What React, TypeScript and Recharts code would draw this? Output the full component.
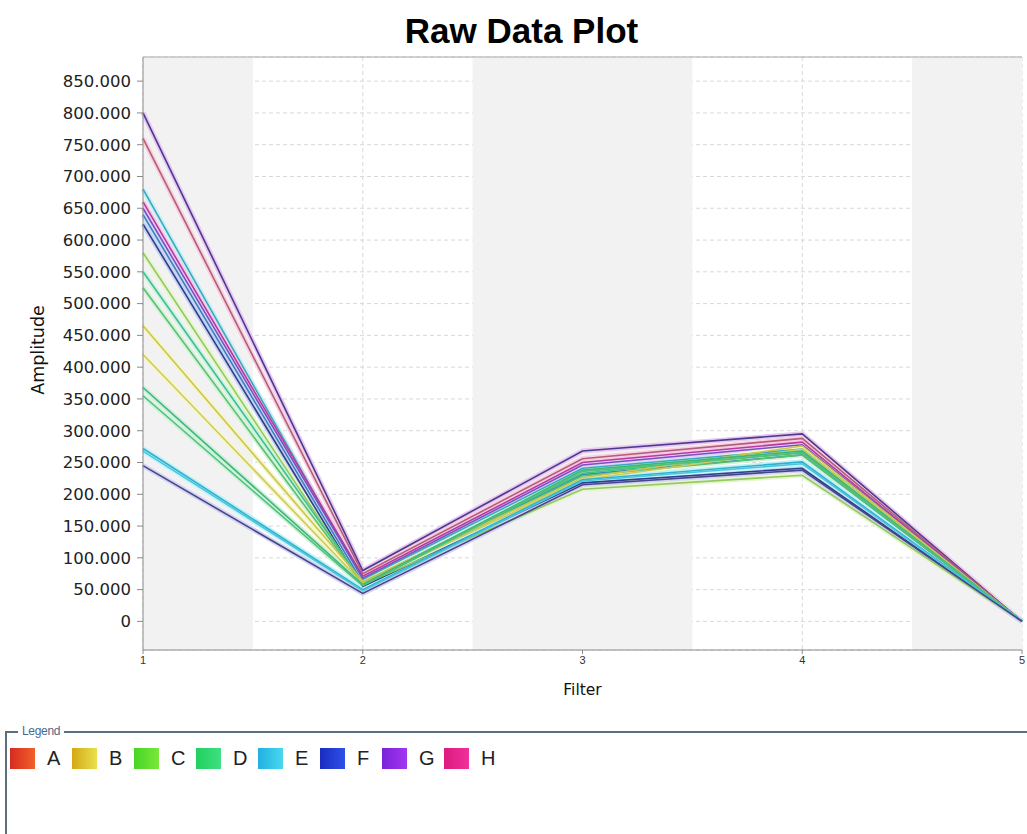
import React from "react";
import {
  CartesianGrid,
  LineChart,
  Line,
  ReferenceArea,
  ReferenceLine,
  XAxis,
  YAxis
} from "recharts";

const filters = [1, 2, 3, 4, 5];
const yTicks = [0, 50, 100, 150, 200, 250, 300, 350, 400, 450, 500, 550, 600, 650, 700, 750, 800, 850];

// amplitude per filter, one list per trace
const g1 = [800, 80, 268, 295, 0];
const h1 = [760, 75, 256, 288, 0];
const e1 = [680, 66, 241, 271, 0];
const h2 = [660, 71, 250, 282, 0];
const g2 = [650, 68, 246, 278, 0];
const f1 = [640, 61, 231, 262, 0];
const f2 = [625, 55, 218, 241, 0];
const c1 = [580, 58, 208, 230, 0];
const d1 = [550, 61, 233, 266, 0];
const d2 = [525, 59, 229, 262, 0];
const b1 = [465, 63, 226, 276, 0];
const b2 = [420, 60, 223, 271, 0];
const d3 = [368, 58, 238, 268, 0];
const d4 = [355, 56, 236, 265, 0];
const e2 = [272, 50, 223, 251, 0];
const e3 = [268, 48, 221, 248, 0];
const f3 = [245, 44, 215, 238, 0];

const traces = [
  { key: "g1", values: g1, color: "#4b3b8f", glow: "#e8c8f0" },
  { key: "h1", values: h1, color: "#b0607a", glow: "#f8d0e0" },
  { key: "e1", values: e1, color: "#38aac0", glow: "#c8eef4" },
  { key: "h2", values: h2, color: "#b83a9a", glow: "#f4c8e8" },
  { key: "g2", values: g2, color: "#7d4fc0", glow: "#e4d0f8" },
  { key: "f1", values: f1, color: "#3f7fc0", glow: "#c8dcf4" },
  { key: "f2", values: f2, color: "#2c3f8c", glow: "#c8d0f0" },
  { key: "c1", values: c1, color: "#94c860", glow: "#e4f6cc" },
  { key: "d1", values: d1, color: "#3ec08c", glow: "#ccf2e0" },
  { key: "d2", values: d2, color: "#58c070", glow: "#d4f2d8" },
  { key: "b1", values: b1, color: "#c8c84e", glow: "#f6f4c8" },
  { key: "b2", values: b2, color: "#cccc5c", glow: "#f6f6cc" },
  { key: "d3", values: d3, color: "#3cb874", glow: "#cceedc" },
  { key: "d4", values: d4, color: "#52c07c", glow: "#d0f2dc" },
  { key: "e2", values: e2, color: "#2eb2cc", glow: "#c0f0f8" },
  { key: "e3", values: e3, color: "#4cc4dc", glow: "#c8f4fa" },
  { key: "f3", values: f3, color: "#46468e", glow: "#d4d4f0" }
];

const legendNames = ["A", "B", "C", "D", "E", "F", "G", "H"];
const legendColors = [
  ["#d62a20", "#f2602a"],
  ["#d4a812", "#e8e050"],
  ["#46d424", "#7ae83a"],
  ["#22d060", "#3ee080"],
  ["#22b0e0", "#48d8f0"],
  ["#1a2cc0", "#2e50e8"],
  ["#7a22d8", "#a236f0"],
  ["#dc1a80", "#f0309c"]
];

const bands = [
  [1, 1.5],
  [2.5, 3.5],
  [4.5, 5]
];

const rows = filters.map((f, i) => {
  const row: Record<string, number> = { filter: f };
  traces.forEach((t) => {
    row[t.key] = t.values[i];
  });
  return row;
});

const font = "'Liberation Sans', Arial, sans-serif";
const wide = "'DejaVu Sans', Verdana, sans-serif";

export default function App() {
  return (
    <div
      style={{
        position: "absolute",
        left: 0,
        top: 0,
        width: 1027,
        height: 834,
        background: "#ffffff",
        fontFamily: font,
        overflow: "hidden"
      }}
    >
      <div
        style={{
          position: "absolute",
          left: 0,
          width: 1043,
          top: 11,
          textAlign: "center",
          fontSize: 35,
          fontWeight: "bold",
          color: "#000",
          lineHeight: "40px"
        }}
      >
        Raw Data Plot
      </div>

      <div style={{ position: "absolute", left: 0, top: 0 }}>
        <LineChart
          width={1027}
          height={720}
          data={rows}
          margin={{ top: 57, right: 5, left: 0, bottom: 40 }}
        >
          {bands.map(([a, b]) => (
            <ReferenceArea
              key={a}
              x1={a}
              x2={b}
              y1={-45}
              y2={888}
              fill="#f2f2f2"
              fillOpacity={1}
              stroke="none"
              ifOverflow="visible"
            />
          ))}
          <CartesianGrid stroke="#d8d8d8" strokeDasharray="4 3" />
          <ReferenceLine y={888} stroke="#a8a8a8" strokeWidth={1} />
          <XAxis
            dataKey="filter"
            type="number"
            domain={[1, 5]}
            ticks={filters}
            height={30}
            tick={{ fill: "#333", fontSize: 11, fontFamily: font }}
            tickSize={4}
            axisLine={{ stroke: "#8a8a8a" }}
            tickLine={{ stroke: "#8a8a8a" }}
            label={{
              value: "Filter",
              position: "insideBottom",
              offset: -15,
              fill: "#111",
              fontSize: 15.5,
              fontFamily: wide
            }}
          />
          <YAxis
            type="number"
            domain={[-45, 888]}
            ticks={yTicks}
            width={143}
            interval={0}
            tickFormatter={(v: number) => (v === 0 ? "0" : v.toFixed(3))}
            tick={{ fill: "#222", fontSize: 16.5, fontFamily: wide }}
            tickSize={6}
            tickMargin={6}
            axisLine={{ stroke: "#8a8a8a" }}
            tickLine={{ stroke: "#8a8a8a" }}
          />
          {traces.map((t) => (
            <Line
              key={t.key + "-glow"}
              dataKey={t.key}
              stroke={t.glow}
              strokeWidth={5}
              dot={false}
              activeDot={false}
              isAnimationActive={false}
              type="linear"
            />
          ))}
          {traces.map((t) => (
            <Line
              key={t.key}
              dataKey={t.key}
              stroke={t.color}
              strokeWidth={1.6}
              dot={false}
              activeDot={false}
              isAnimationActive={false}
              type="linear"
            />
          ))}
        </LineChart>
      </div>

      <div
        style={{
          position: "absolute",
          left: 38,
          top: 350,
          transform: "translate(-50%, -50%) rotate(-90deg)",
          fontFamily: wide,
          fontSize: 17.5,
          color: "#111",
          whiteSpace: "nowrap"
        }}
      >
        Amplitude
      </div>

      <div
        style={{
          position: "absolute",
          left: 5,
          top: 731,
          width: 1030,
          height: 120,
          borderTop: "2px solid #5a6e7e",
          borderLeft: "2px solid #5a6e7e"
        }}
      />
      <div
        style={{
          position: "absolute",
          left: 18,
          top: 724,
          padding: "0 4px",
          background: "#fff",
          fontSize: 12,
          color: "#4a6a8a",
          letterSpacing: -0.3
        }}
      >
        Legend
      </div>
      <div style={{ position: "absolute", left: 10, top: 747, display: "flex", alignItems: "center" }}>
        {legendNames.map((n, i) => (
          <div key={n} style={{ display: "flex", alignItems: "center", marginRight: 12 }}>
            <div
              style={{
                width: 25,
                height: 21,
                background: `linear-gradient(to right, ${legendColors[i][0]}, ${legendColors[i][1]})`
              }}
            />
            <span style={{ marginLeft: 12, fontSize: 20, color: "#222", width: 13 }}>{n}</span>
          </div>
        ))}
      </div>
    </div>
  );
}
